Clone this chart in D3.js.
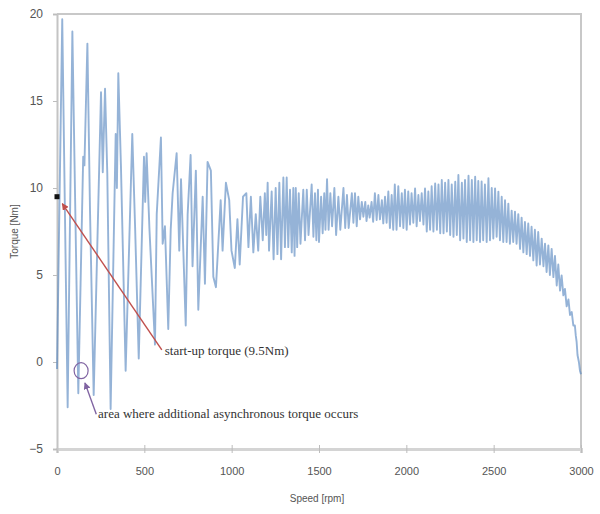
<!DOCTYPE html>
<html>
<head>
<meta charset="utf-8">
<script src="https://cdn.jsdelivr.net/npm/d3@7"></script>
<style>
  body { margin: 0; background: #fff; }
  svg { display: block; }
</style>
</head>
<body>
<svg class="chart"></svg>
<script>
// torque vs speed during run-up as [speed rpm, torque Nm]
var startPart = [
  [0, -0.4], [30, 19.7], [61, -2.6], [88, 19.0], [122, -1.8], [150, 11.8], [157, 11.3],
  [174, 18.3], [189, 8.7], [210, -1.9], [252, 15.5], [262, 10.9], [275, 15.7], [288, 10.8],
  [307, -2.7], [336, 13.1], [343, 10.0], [351, 16.6], [366, 11.3], [393, -0.5], [431, 13.1],
  [447, 7.8], [468, 0.2], [498, 11.8], [505, 9.2], [513, 12.0], [529, 7.7], [561, 1.0],
  [571, 8.5], [595, 12.9], [605, 6.8], [618, 7.8], [637, 1.9], [651, 7.6], [662, 9.7],
  [685, 12.0], [700, 6.4], [710, 10.5], [737, 2.1], [748, 8.5], [765, 11.9], [776, 5.5],
  [795, 11.0], [809, 3.0], [834, 9.5], [847, 4.5], [862, 11.5], [881, 11.0], [895, 4.9],
  [910, 4.3], [937, 9.3], [948, 6.4], [967, 10.3], [986, 9.3], [999, 6.4], [1018, 5.4],
  [1033, 8.2], [1046, 5.6], [1065, 9.5], [1084, 9.7], [1096, 6.6]
];

var middlePart = [
  [1110, 9.5], [1124, 6.3], [1138, 8.5], [1152, 6.4], [1164, 9.5], [1178, 7.0],
  [1190, 9.7], [1198, 7.3], [1206, 10.3], [1214, 6.4], [1229, 9.8], [1240, 5.9],
  [1252, 10.0], [1262, 6.2], [1273, 10.3], [1283, 5.9], [1296, 10.6], [1305, 6.6],
  [1315, 10.6], [1324, 6.6], [1334, 9.9], [1344, 6.3], [1353, 10.0], [1360, 6.1],
  [1367, 10.0], [1375, 6.6], [1384, 9.7], [1394, 6.8], [1410, 9.9], [1420, 7.0],
  [1430, 9.9], [1440, 7.3], [1458, 10.2], [1468, 7.2], [1477, 9.7], [1485, 7.0],
  [1494, 9.9], [1500, 6.9], [1512, 9.5], [1521, 7.4], [1530, 9.7], [1537, 7.6],
  [1546, 10.5], [1555, 7.6], [1565, 9.7], [1575, 7.8], [1588, 10.0], [1598, 7.3],
  [1611, 9.5], [1622, 7.6], [1640, 10.0], [1650, 7.7], [1660, 9.6], [1670, 7.7],
  [1688, 9.7], [1697, 8.0], [1706, 9.7], [1716, 7.8], [1725, 9.5], [1735, 8.2],
  [1745, 9.2], [1754, 8.35], [1765, 9.2], [1772, 8.1], [1782, 9.0], [1790, 8.3],
  [1801, 9.2], [1810, 8.06], [1820, 9.7], [1830, 8.16], [1840, 9.6], [1849, 8.2],
  [1860, 9.3], [1868, 7.97], [1878, 9.5], [1887, 8.0], [1897, 9.8], [1906, 7.7],
  [1916, 9.6], [1925, 7.6], [1934, 10.2], [1944, 7.6], [1954, 10.1], [1964, 7.8],
  [1974, 9.7], [1983, 7.7], [1992, 9.9], [2002, 7.6], [2011, 9.8], [2021, 7.9],
  [2030, 9.7], [2040, 8.0], [2050, 9.97], [2059, 7.8], [2069, 9.6], [2078, 8.1],
  [2088, 9.7], [2098, 7.9], [2107, 9.97], [2117, 7.5], [2126, 9.8], [2136, 7.6],
  [2145, 10.1], [2155, 7.5], [2165, 10.26], [2175, 7.6], [2184, 10.2], [2194, 7.4]
];

var endPart = [
  [2203, 10.46], [2213, 7.4], [2222, 10.3], [2232, 7.5], [2241, 10.46], [2251, 7.3],
  [2260, 10.2], [2270, 7.2], [2280, 10.36], [2289, 7.3], [2298, 10.75], [2308, 7.0],
  [2318, 10.3], [2327, 7.1], [2336, 10.46], [2346, 6.9], [2356, 10.7], [2365, 7.0],
  [2375, 10.46], [2384, 6.9], [2394, 10.65], [2403, 7.0], [2412, 10.4], [2422, 6.9],
  [2431, 10.37], [2440, 7.0], [2450, 10.2], [2460, 6.9], [2470, 10.56], [2479, 7.0],
  [2489, 10.0], [2498, 7.1], [2508, 9.98], [2517, 7.2], [2527, 9.79], [2536, 7.0],
  [2546, 9.5], [2555, 6.9], [2565, 9.3], [2574, 6.9], [2584, 9.1], [2593, 6.8],
  [2603, 8.7], [2612, 6.9], [2622, 8.64], [2631, 6.8], [2641, 8.5], [2651, 6.5],
  [2660, 8.3], [2670, 6.3], [2679, 8.05], [2689, 6.2], [2698, 7.96], [2708, 6.1],
  [2717, 7.77], [2727, 5.84], [2736, 7.6], [2746, 5.55], [2755, 7.47], [2765, 5.6],
  [2775, 7.09], [2785, 5.5], [2794, 6.8], [2803, 5.17], [2813, 6.7], [2822, 5.0],
  [2832, 6.5], [2842, 4.88], [2851, 6.1], [2861, 4.4], [2870, 5.6], [2880, 4.1],
  [2889, 4.98], [2899, 3.83], [2908, 4.2], [2918, 3.2], [2928, 3.6], [2937, 2.7],
  [2947, 2.87], [2956, 2.1], [2965, 2.1], [2970, 1.53], [2975, 1.15], [2980, 0.4],
  [2988, 0.0], [2994, -0.5], [3000, -0.7]
];

var xTicks = [0, 500, 1000, 1500, 2000, 2500, 3000];
var yTicks = [-5, 0, 5, 10, 15, 20];
var startTorque = [0, 9.5];
var asyncSpot = [138, -0.5];

var width = 600, height = 514;
var margin = { top: 14, right: 19, bottom: 65, left: 57 };

var x = d3.scaleLinear().domain([0, 3000]).range([margin.left, width - margin.right]);
var y = d3.scaleLinear().domain([-5, 20]).range([height - margin.bottom, margin.top]);

var svg = d3.select(".chart")
  .attr("width", width)
  .attr("height", height);

var defs = svg.append("defs");
function arrowHead(id, col) {
  defs.append("marker")
    .attr("id", id)
    .attr("viewBox", "0 0 10 10")
    .attr("refX", 9).attr("refY", 5)
    .attr("markerWidth", 5).attr("markerHeight", 5)
    .attr("orient", "auto-start-reverse")
    .append("path")
    .attr("d", "M0,0 L10,5 L0,10 z")
    .attr("fill", col);
}
arrowHead("redHead", "#c0504d");
arrowHead("purpleHead", "#8064a2");

// plot frame (top + right)
svg.append("path")
  .attr("d", "M" + x(0) + "," + y(20) + "H" + x(3000) + "V" + y(-5))
  .attr("fill", "none")
  .attr("stroke", "#c8c8c8")
  .attr("stroke-width", 2);

// x axis
var xAxis = svg.append("g")
  .attr("transform", "translate(0," + y(-5) + ")")
  .call(d3.axisBottom(x).tickValues(xTicks).tickSize(4).tickPadding(14).tickFormat(d3.format("d")));
xAxis.select(".domain").attr("stroke", "#d4d4d4").attr("stroke-width", 3);
xAxis.selectAll(".tick line").attr("stroke", "#bdbdbd").attr("y1", -4);
xAxis.selectAll("text")
  .attr("fill", "#555")
  .style("font", "11px 'Liberation Sans Narrow', 'Liberation Sans', sans-serif");

// y axis
var yAxis = svg.append("g")
  .attr("transform", "translate(" + x(0) + ",0)")
  .call(d3.axisLeft(y).tickValues(yTicks).tickSize(4).tickPadding(10));
yAxis.select(".domain").attr("stroke", "#c4c4c4").attr("stroke-width", 2);
yAxis.selectAll(".tick line").attr("stroke", "#bdbdbd");
yAxis.selectAll("text")
  .attr("fill", "#555")
  .style("font", "12px 'Liberation Sans Narrow', 'Liberation Sans', sans-serif");

// axis titles
svg.append("text")
  .attr("x", (x(0) + x(3000)) / 2 - 2)
  .attr("y", 502)
  .attr("text-anchor", "middle")
  .attr("fill", "#555")
  .style("font", "10px 'Liberation Sans', sans-serif")
  .text("Speed [rpm]");

svg.append("text")
  .attr("transform", "translate(18," + y(7.5) + ") rotate(-90)")
  .attr("text-anchor", "middle")
  .attr("fill", "#555")
  .style("font", "10px 'Liberation Sans', sans-serif")
  .text("Torque [Nm]");

// the torque curve
var curve = startPart.concat(middlePart, endPart);
var line = d3.line()
  .x(function(d) { return x(d[0]); })
  .y(function(d) { return y(d[1]); });

svg.append("path")
  .datum(curve)
  .attr("d", line)
  .attr("fill", "none")
  .attr("stroke", "#4f81bd")
  .attr("stroke-width", 1.9)
  .attr("stroke-opacity", 0.6)
  .attr("stroke-linejoin", "round");

// start-up torque marker + annotation
svg.append("rect")
  .attr("x", x(startTorque[0]) - 2.5)
  .attr("y", y(startTorque[1]) - 2.5)
  .attr("width", 5).attr("height", 5)
  .attr("fill", "#111");

svg.append("line")
  .attr("x1", x(600)).attr("y1", y(0.7))
  .attr("x2", x(30)).attr("y2", y(9.1))
  .attr("stroke", "#c0504d")
  .attr("stroke-width", 1.4)
  .attr("marker-end", "url(#redHead)");

svg.append("text")
  .attr("x", x(600) + 3)
  .attr("y", y(0.7) + 5)
  .attr("fill", "#333")
  .style("font", "13px 'Liberation Serif', 'DejaVu Serif', serif")
  .text("start-up torque (9.5Nm)");

// asynchronous torque area
svg.append("ellipse")
  .attr("cx", x(asyncSpot[0])).attr("cy", y(asyncSpot[1]))
  .attr("rx", 7).attr("ry", 8)
  .attr("fill", "none")
  .attr("stroke", "#8064a2")
  .attr("stroke-width", 1.2);

svg.append("line")
  .attr("x1", x(225)).attr("y1", y(-3.0))
  .attr("x2", x(160)).attr("y2", y(-1.2))
  .attr("stroke", "#8064a2")
  .attr("stroke-width", 1.4)
  .attr("marker-end", "url(#purpleHead)");

svg.append("text")
  .attr("x", x(235))
  .attr("y", y(-3.0) + 4)
  .attr("fill", "#333")
  .style("font", "13px 'Liberation Serif', 'DejaVu Serif', serif")
  .text("area where additional asynchronous torque occurs");
</script>
</body>
</html>
